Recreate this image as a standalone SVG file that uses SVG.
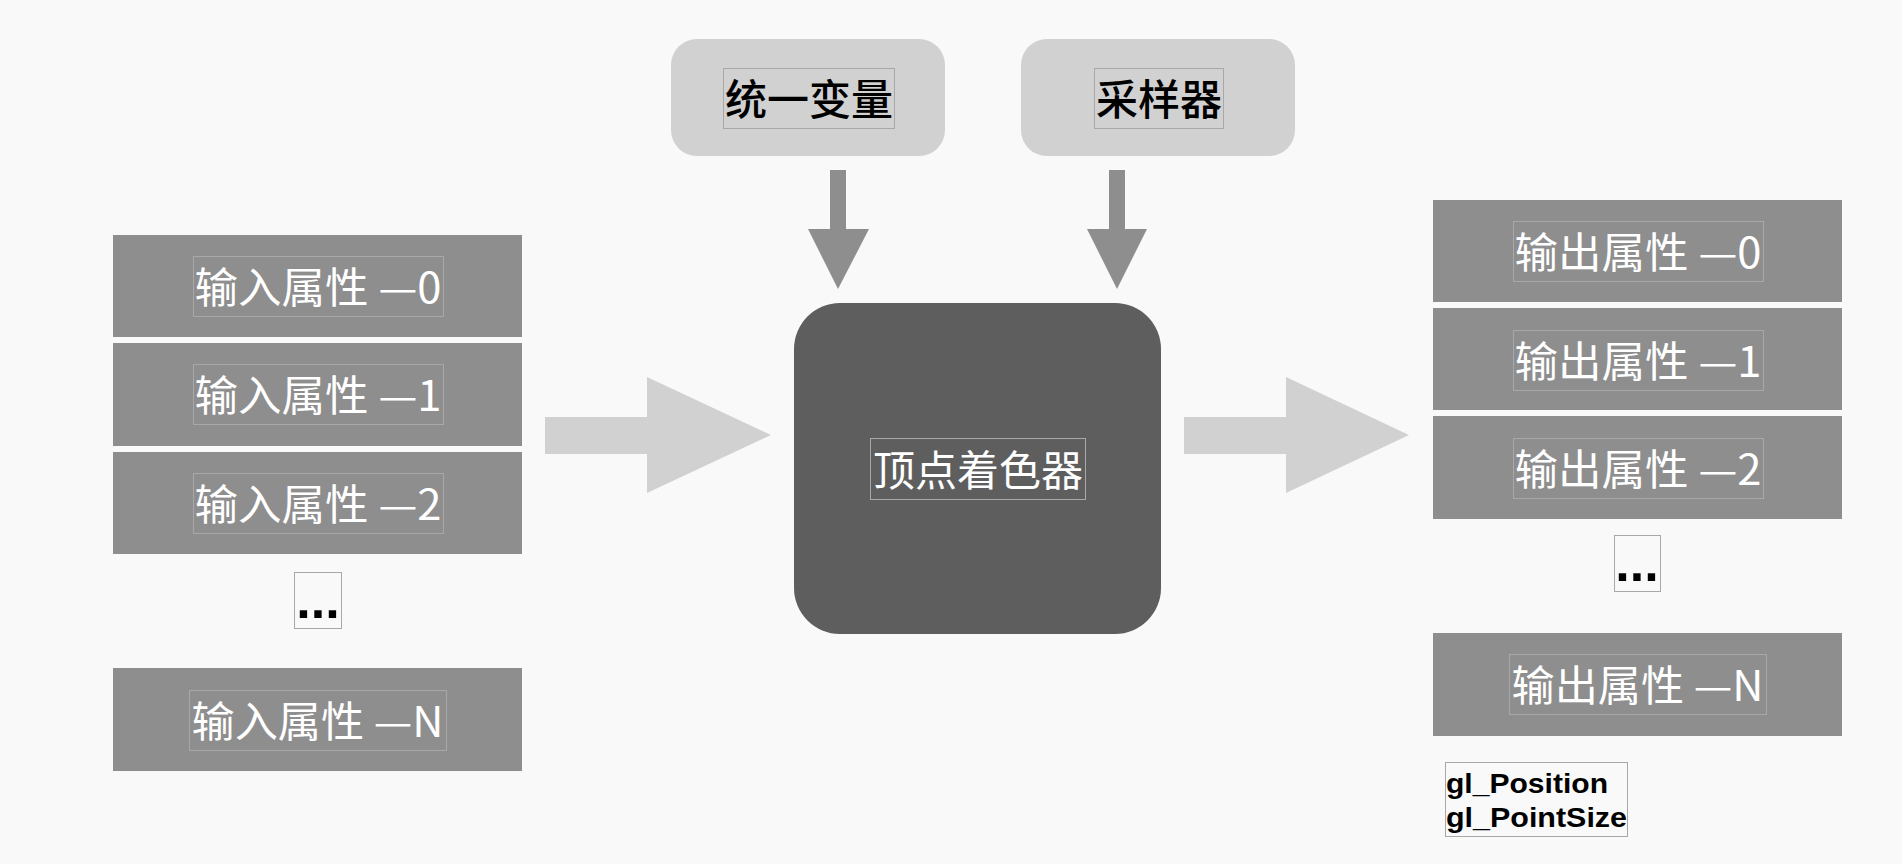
<svg xmlns="http://www.w3.org/2000/svg" width="1902" height="864" viewBox="0 0 1902 864">
<style>
.bg{fill:#f9f9f9}
.attr{fill:#8e8e8e}
.light{fill:#d1d1d1}
.dark{fill:#5e5e5e}
.tb{fill:none;stroke:#a8a8a8;stroke-width:1}
.wt{fill:#ffffff;font-family:"Noto Sans CJK SC","Noto Sans",sans-serif;font-size:42px;font-weight:400;dominant-baseline:central;text-anchor:middle}
.bt{fill:#000000;font-family:"Noto Sans CJK SC","Noto Sans",sans-serif;font-size:42px;font-weight:500;dominant-baseline:central;text-anchor:middle}
.dots{fill:#000;font-family:"Liberation Sans",Arial,sans-serif;font-weight:bold;font-size:52px;text-anchor:middle}
.gl{fill:#000;font-family:"Liberation Sans",Arial,sans-serif;font-weight:bold;font-size:28px}
</style>
<rect class="bg" x="0" y="0" width="1902" height="864"/>

<g id="connectors">
  <polygon class="attr" points="830,170 846,170 846,229 869,229 838,289 808,229 830,229"/>
  <polygon class="attr" points="1109,170 1125,170 1125,229 1147,229 1117,289 1087,229 1109,229"/>
  <polygon class="light" points="545,417 647,417 647,377 771,435 647,493 647,454 545,454"/>
  <polygon class="light" points="1184,417 1286,417 1286,377 1409,435 1286,493 1286,454 1184,454"/>
</g>

<g id="uniform">
  <rect class="light" x="671" y="39" width="274" height="117" rx="26"/>
  <rect class="tb" x="723.5" y="68.5" width="171" height="60"/>
  <text class="bt" x="809" y="96" textLength="168" lengthAdjust="spacingAndGlyphs">统一变量</text>
</g>
<g id="sampler">
  <rect class="light" x="1021" y="39" width="274" height="117" rx="26"/>
  <rect class="tb" x="1094.5" y="68.5" width="129" height="60"/>
  <text class="bt" x="1159" y="96" textLength="126" lengthAdjust="spacingAndGlyphs">采样器</text>
</g>

<g id="vertex-shader">
  <rect class="dark" x="794" y="303" width="367" height="331" rx="46"/>
  <rect class="tb" x="870.5" y="438.5" width="215" height="61"/>
  <text class="wt" x="978" y="467" textLength="210" lengthAdjust="spacingAndGlyphs">顶点着色器</text>
</g>

<g id="in-0">
  <rect class="attr" x="113" y="235" width="409" height="102"/>
  <rect class="tb" x="193.5" y="256.5" width="250" height="60"/>
  <text class="wt" x="318" y="284.5" textLength="247" lengthAdjust="spacingAndGlyphs">输入属性 —0</text>
</g>
<g id="in-1">
  <rect class="attr" x="113" y="343" width="409" height="103"/>
  <rect class="tb" x="193.5" y="364.5" width="250" height="60"/>
  <text class="wt" x="318" y="392.5" textLength="247" lengthAdjust="spacingAndGlyphs">输入属性 —1</text>
</g>
<g id="in-2">
  <rect class="attr" x="113" y="452" width="409" height="102"/>
  <rect class="tb" x="193.5" y="473.5" width="250" height="60"/>
  <text class="wt" x="318" y="501.5" textLength="247" lengthAdjust="spacingAndGlyphs">输入属性 —2</text>
</g>
<g id="in-dots">
  <rect class="tb" x="294.5" y="572.5" width="47" height="56"/>
  <text class="dots" x="318" y="618">...</text>
</g>
<g id="in-n">
  <rect class="attr" x="113" y="668" width="409" height="103"/>
  <rect class="tb" x="189.5" y="690.5" width="257" height="60"/>
  <text class="wt" x="317.5" y="718.5" textLength="252" lengthAdjust="spacingAndGlyphs">输入属性 —N</text>
</g>

<g id="out-0">
  <rect class="attr" x="1433" y="200" width="409" height="102"/>
  <rect class="tb" x="1513.5" y="221.5" width="250" height="60"/>
  <text class="wt" x="1638" y="249.5" textLength="247" lengthAdjust="spacingAndGlyphs">输出属性 —0</text>
</g>
<g id="out-1">
  <rect class="attr" x="1433" y="308" width="409" height="102"/>
  <rect class="tb" x="1513.5" y="330.5" width="250" height="60"/>
  <text class="wt" x="1638" y="358" textLength="247" lengthAdjust="spacingAndGlyphs">输出属性 —1</text>
</g>
<g id="out-2">
  <rect class="attr" x="1433" y="416" width="409" height="103"/>
  <rect class="tb" x="1513.5" y="438.5" width="250" height="60"/>
  <text class="wt" x="1638" y="466" textLength="247" lengthAdjust="spacingAndGlyphs">输出属性 —2</text>
</g>
<g id="out-dots">
  <rect class="tb" x="1614.5" y="535.5" width="46" height="56"/>
  <text class="dots" x="1637" y="581">...</text>
</g>
<g id="out-n">
  <rect class="attr" x="1433" y="633" width="409" height="103"/>
  <rect class="tb" x="1509.5" y="654.5" width="257" height="60"/>
  <text class="wt" x="1637.5" y="682.5" textLength="252" lengthAdjust="spacingAndGlyphs">输出属性 —N</text>
</g>

<g id="builtins">
  <rect class="tb" x="1445.5" y="762.5" width="182" height="74"/>
  <text class="gl" x="1446" y="793" textLength="162" lengthAdjust="spacingAndGlyphs">gl_Position</text>
  <text class="gl" x="1446" y="827" textLength="181" lengthAdjust="spacingAndGlyphs">gl_PointSize</text>
</g>
</svg>
